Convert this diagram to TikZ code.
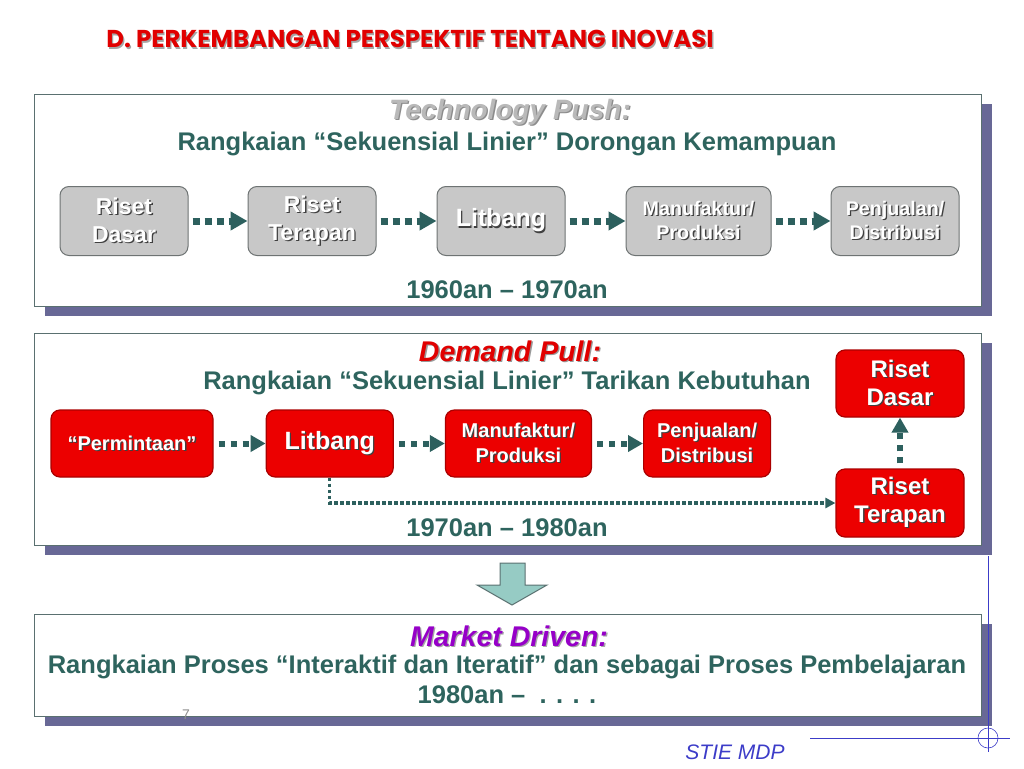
\documentclass[tikz,border=0pt]{standalone}
\usepackage{fontspec}
\setmainfont{Liberation Sans}
\newfontfamily\titlefont{Poppins}
\usetikzlibrary{arrows.meta,positioning,shadows}
\usepackage{xcolor}

\definecolor{tealtext}{RGB}{46,100,94}
\definecolor{arrowteal}{RGB}{45,96,94}
\definecolor{panelline}{RGB}{90,112,112}
\definecolor{shadowblue}{RGB}{104,104,150}
\definecolor{boxgrey}{RGB}{200,200,200}
\definecolor{boxline}{RGB}{110,115,115}
\definecolor{redfill}{RGB}{236,0,0}
\definecolor{redline}{RGB}{170,0,0}
\definecolor{headred}{RGB}{225,0,0}
\definecolor{techgrey}{RGB}{185,185,185}
\definecolor{marketpurple}{RGB}{150,0,200}
\definecolor{downfill}{RGB}{150,203,196}
\definecolor{decoblue}{RGB}{60,60,200}

% text with a small dark shadow behind it
\newcommand{\shtxt}[2][black!75]{\leavevmode\rlap{\kern1.3pt\raisebox{-1.3pt}{\textcolor{#1}{#2}}}#2}

\tikzset{
  panel/.style={draw=panelline, line width=1pt, fill=white, inner sep=0pt,
    minimum width=947pt, minimum height=212pt,
    drop shadow={shadow xshift=11pt, shadow yshift=-10pt, fill=shadowblue, opacity=1}},
  greybox/.style={draw=boxline, fill=boxgrey, rounded corners=9pt, line width=1pt,
    minimum width=128pt, minimum height=69pt, inner sep=0pt, text=white, align=center,
    font=\bfseries\fontsize{23}{28}\selectfont},
  redbox/.style={draw=redline, fill=redfill, rounded corners=9pt, line width=1.2pt,
    minimum width=127pt, minimum height=67pt, inner sep=0pt, text=white, align=center,
    font=\bfseries\fontsize{20}{25}\selectfont},
  dotarrow/.style={-{Triangle[length=17pt,width=18pt]}, draw=arrowteal,
    line width=7pt, dash pattern=on 7pt off 5pt, shorten <=4pt},
  dotarrowB/.style={-{Triangle[length=15pt,width=16pt]}, draw=arrowteal,
    line width=6pt, dash pattern=on 6pt off 6pt, shorten <=5pt},
  thindots/.style={-{Triangle[length=10pt,width=10pt]}, draw=arrowteal,
    line width=3.5pt, dash pattern=on 3.5pt off 2.5pt},
  subhead/.style={text=tealtext, font=\bfseries\fontsize{25.5}{30}\selectfont}
}

\begin{document}
\begin{tikzpicture}[x=1pt, y=-1pt]
  \useasboundingbox (0,0) rectangle (1024,768);

  \node[text=headred, font=\titlefont\bfseries\fontsize{24.4}{28}\selectfont] (title) at (410,40) {\shtxt[black!35]{D. PERKEMBANGAN PERSPEKTIF TENTANG INOVASI}};

  % Technology Push
  \node[panel] (pushpanel) at (507.5,200) {};
  \node[text=techgrey, font=\bfseries\itshape\fontsize{28}{32}\selectfont] (pushtitle) at (510,113) {\shtxt[black!45]{Technology Push:}};
  \node[subhead] (pushsub) at (507,144) {Rangkaian “Sekuensial Linier” Dorongan Kemampuan};

  \node[greybox] (dasar) at (124,221) {\shtxt{Riset}\\\shtxt{Dasar}};
  \node[greybox, right=59pt of dasar] (terapan) {\shtxt{Riset}\\\shtxt{Terapan}};
  \node[greybox, right=60pt of terapan, font=\bfseries\fontsize{25}{30}\selectfont] (litbang) {\shtxt{Litbang}};
  \node[greybox, right=60pt of litbang, minimum width=145pt, font=\bfseries\fontsize{19.7}{24}\selectfont] (manuf) {\shtxt{Manufaktur/}\\\shtxt{Produksi}};
  \node[greybox, right=59pt of manuf, font=\bfseries\fontsize{19.7}{24}\selectfont] (jual) {\shtxt{Penjualan/}\\\shtxt{Distribusi}};

  \draw[dotarrow] (dasar) -- (terapan);
  \draw[dotarrow] (terapan) -- (litbang);
  \draw[dotarrow] (litbang) -- (manuf);
  \draw[dotarrow] (manuf) -- (jual);

  \node[subhead] (pushyears) at (507,290) {1960an – 1970an};

  % Demand Pull
  \node[panel] (pullpanel) at (507.5,439) {};
  \node[text=headred, font=\bfseries\itshape\fontsize{28.5}{32}\selectfont] (pulltitle) at (510,352) {\shtxt[black!40]{Demand Pull:}};
  \node[subhead] (pullsub) at (507,383) {Rangkaian “Sekuensial Linier” Tarikan Kebutuhan};

  \node[redbox, minimum width=162pt] (minta) at (132,443.5) {\shtxt{“Permintaan”}};
  \node[redbox, right=52pt of minta, font=\bfseries\fontsize{25}{30}\selectfont] (litbangB) {\shtxt{Litbang}};
  \node[redbox, right=51pt of litbangB, minimum width=146pt] (manufB) {\shtxt{Manufaktur/}\\\shtxt{Produksi}};
  \node[redbox, right=51pt of manufB] (jualB) {\shtxt{Penjualan/}\\\shtxt{Distribusi}};
  \node[redbox, minimum width=128pt, font=\bfseries\fontsize{24}{28}\selectfont] (dasarB) at (900,383.5) {\shtxt{Riset}\\\shtxt{Dasar}};
  \node[redbox, minimum width=128pt, minimum height=68pt, font=\bfseries\fontsize{24}{28}\selectfont] (terapanB) at (900,503) {\shtxt{Riset}\\\shtxt{Terapan}};

  \draw[dotarrowB] (minta) -- (litbangB);
  \draw[dotarrowB] (litbangB) -- (manufB);
  \draw[dotarrowB] (manufB) -- (jualB);
  \draw[dotarrowB] (terapanB) -- (dasarB);
  \draw[thindots] (litbangB.south) |- (terapanB.west);

  \node[subhead] (pullyears) at (507,528) {1970an – 1980an};

  % block arrow down
  \draw[draw=panelline, fill=downfill, line width=1pt]
    (500,563) -- (525,563) -- (525,585) -- (547,585) -- (512,605) -- (477,585) -- (500,585) -- cycle;

  % Market Driven
  \node[panel, minimum height=102pt] (marketpanel) at (507.5,665) {};
  \node[text=marketpurple, font=\bfseries\itshape\fontsize{28.5}{32}\selectfont] (markettitle) at (509,637) {\shtxt[black!35]{Market Driven:}};
  \node[subhead] (marketsub) at (507,667) {Rangkaian Proses “Interaktif dan Iteratif” dan sebagai Proses Pembelajaran};
  \node[subhead] (marketyears) at (507,695) {1980an –\ \ . . . .};
  \node[text=black!45, font=\fontsize{14}{16}\selectfont] (pagenum) at (186,715) {7};

  % footer
  \draw[decoblue, line width=0.6pt] (988,556) -- (988,752);
  \draw[decoblue, line width=0.6pt] (810,738) -- (1010,738);
  \draw[decoblue, line width=0.6pt] (988,738) circle (10);
  \node[text=decoblue, font=\itshape\fontsize{21}{24}\selectfont] (stie) at (735,752) {STIE MDP};
\end{tikzpicture}
\end{document}
